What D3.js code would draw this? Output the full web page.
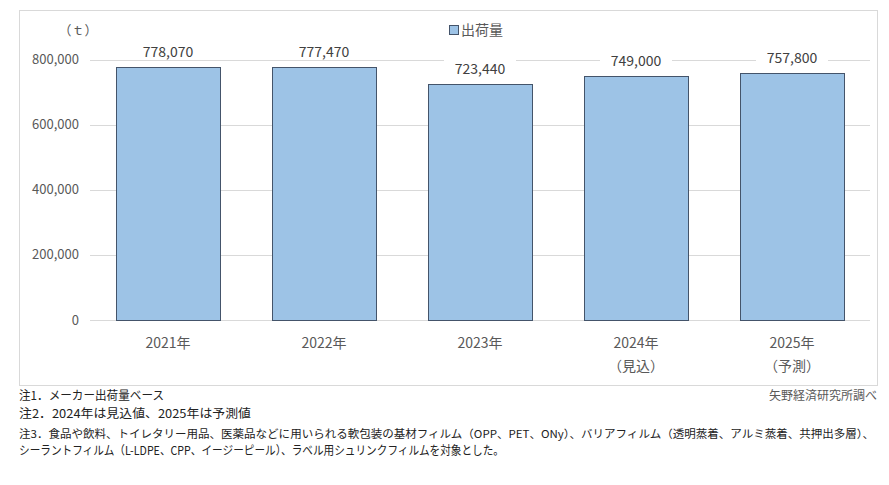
<!DOCTYPE html>
<meta charset="utf-8">
<style>
  body { margin: 0; background: #fff; }
  svg { font-family: "Noto Sans CJK JP", "Noto Sans", sans-serif; }
</style>
<svg width="889" height="485"></svg>
<script src="https://d3js.org/d3.v7.min.js"></script>
<script>

var years = ["2021年", "2022年", "2023年", "2024年", "2025年"];
var subLabels = ["", "", "", "（見込）", "（予測）"];
var shipments = [778070, 777470, 723440, 749000, 757800];
var yTicks = [0, 200000, 400000, 600000, 800000];
var notes = [
  "注1．メーカー出荷量ベース",
  "注2．2024年は見込値、2025年は予測値",
  "注3．食品や飲料、トイレタリー用品、医薬品などに用いられる軟包装の基材フィルム（OPP、PET、ONy）、バリアフィルム（透明蒸着、アルミ蒸着、共押出多層）、",
  "シーラントフィルム（L-LDPE、CPP、イージーピール）、ラベル用シュリンクフィルムを対象とした。"
];

var svg = d3.select("svg");

// chart frame
svg.append("rect")
  .attr("x", 19.5).attr("y", 10.5)
  .attr("width", 858).attr("height", 375)
  .attr("fill", "#fff")
  .attr("stroke", "#d9d9d9");

var x = d3.scaleBand()
  .domain(years)
  .range([90, 870])
  .paddingInner(1 / 3)
  .paddingOuter(1 / 6);

var y = d3.scaleLinear()
  .domain([0, 800000])
  .range([320, 59.5]);

var fmt = d3.format(",");

// gridlines
svg.append("g")
  .selectAll("line")
  .data(yTicks)
  .join("line")
  .attr("x1", 90).attr("x2", 870)
  .attr("y1", function(d) { return Math.round(y(d)) + 0.5; })
  .attr("y2", function(d) { return Math.round(y(d)) + 0.5; })
  .attr("stroke", "#d9d9d9");

// y labels
svg.append("g")
  .selectAll("text")
  .data(yTicks)
  .join("text")
  .attr("x", 79)
  .attr("y", function(d) { return y(d); })
  .attr("dy", "0.35em")
  .attr("text-anchor", "end")
  .attr("font-size", 13)
  .attr("fill", "#595959")
  .text(function(d) { return fmt(d); });

svg.append("text")
  .attr("x", 78).attr("y", 35)
  .attr("text-anchor", "middle")
  .attr("font-size", 13)
  .attr("fill", "#595959")
  .text("（ｔ）");

// bars
svg.append("g")
  .selectAll("rect")
  .data(shipments)
  .join("rect")
  .attr("x", function(d, i) { return Math.round(x(years[i])) + 0.5; })
  .attr("y", function(d) { return Math.round(y(d)) + 0.5; })
  .attr("width", Math.round(x.bandwidth()))
  .attr("height", function(d) { return Math.round(y(0)) - Math.round(y(d)); })
  .attr("fill", "#9dc3e6")
  .attr("stroke", "#44546a")
  .attr("stroke-width", 1);

// value labels with white backing
var lab = svg.append("g")
  .selectAll("g")
  .data(shipments)
  .join("g")
  .attr("transform", function(d, i) {
    return "translate(" + (x(years[i]) + x.bandwidth() / 2) + "," + (y(d) - 10) + ")";
  });

lab.append("rect")
  .attr("x", -36).attr("y", -17)
  .attr("width", 72).attr("height", 20)
  .attr("fill", "#fff");

lab.append("text")
  .attr("text-anchor", "middle")
  .attr("font-size", 14)
  .attr("fill", "#404040")
  .text(function(d) { return fmt(d); });

// x labels
var xl = svg.append("g")
  .selectAll("g")
  .data(years)
  .join("g")
  .attr("transform", function(d) { return "translate(" + (x(d) + x.bandwidth() / 2) + ",0)"; });

xl.append("text")
  .attr("y", 348)
  .attr("text-anchor", "middle")
  .attr("font-size", 14)
  .attr("fill", "#595959")
  .text(function(d) { return d; });

xl.append("text")
  .attr("y", 371)
  .attr("text-anchor", "middle")
  .attr("font-size", 14)
  .attr("fill", "#595959")
  .text(function(d, i) { return subLabels[i]; });

// legend
svg.append("rect")
  .attr("x", 449.5).attr("y", 25.5)
  .attr("width", 9).attr("height", 9)
  .attr("fill", "#9dc3e6")
  .attr("stroke", "#44546a");

svg.append("text")
  .attr("x", 461).attr("y", 35)
  .attr("font-size", 14)
  .attr("fill", "#595959")
  .text("出荷量");

// notes
svg.append("g")
  .selectAll("text")
  .data(notes)
  .join("text")
  .attr("x", 19)
  .attr("y", function(d, i) { return [400, 418, 438, 455][i]; })
  .attr("font-size", function(d, i) { return i == 2 ? 11 : 12; })
  .attr("fill", "#222")
  .attr("textLength", function(d, i) { return [145, 232, 855, 485][i]; })
  .attr("lengthAdjust", "spacingAndGlyphs")
  .text(function(d) { return d; });

svg.append("text")
  .attr("x", 877).attr("y", 400)
  .attr("text-anchor", "end")
  .attr("font-size", 12)
  .attr("fill", "#595959")
  .text("矢野経済研究所調べ");

</script>
